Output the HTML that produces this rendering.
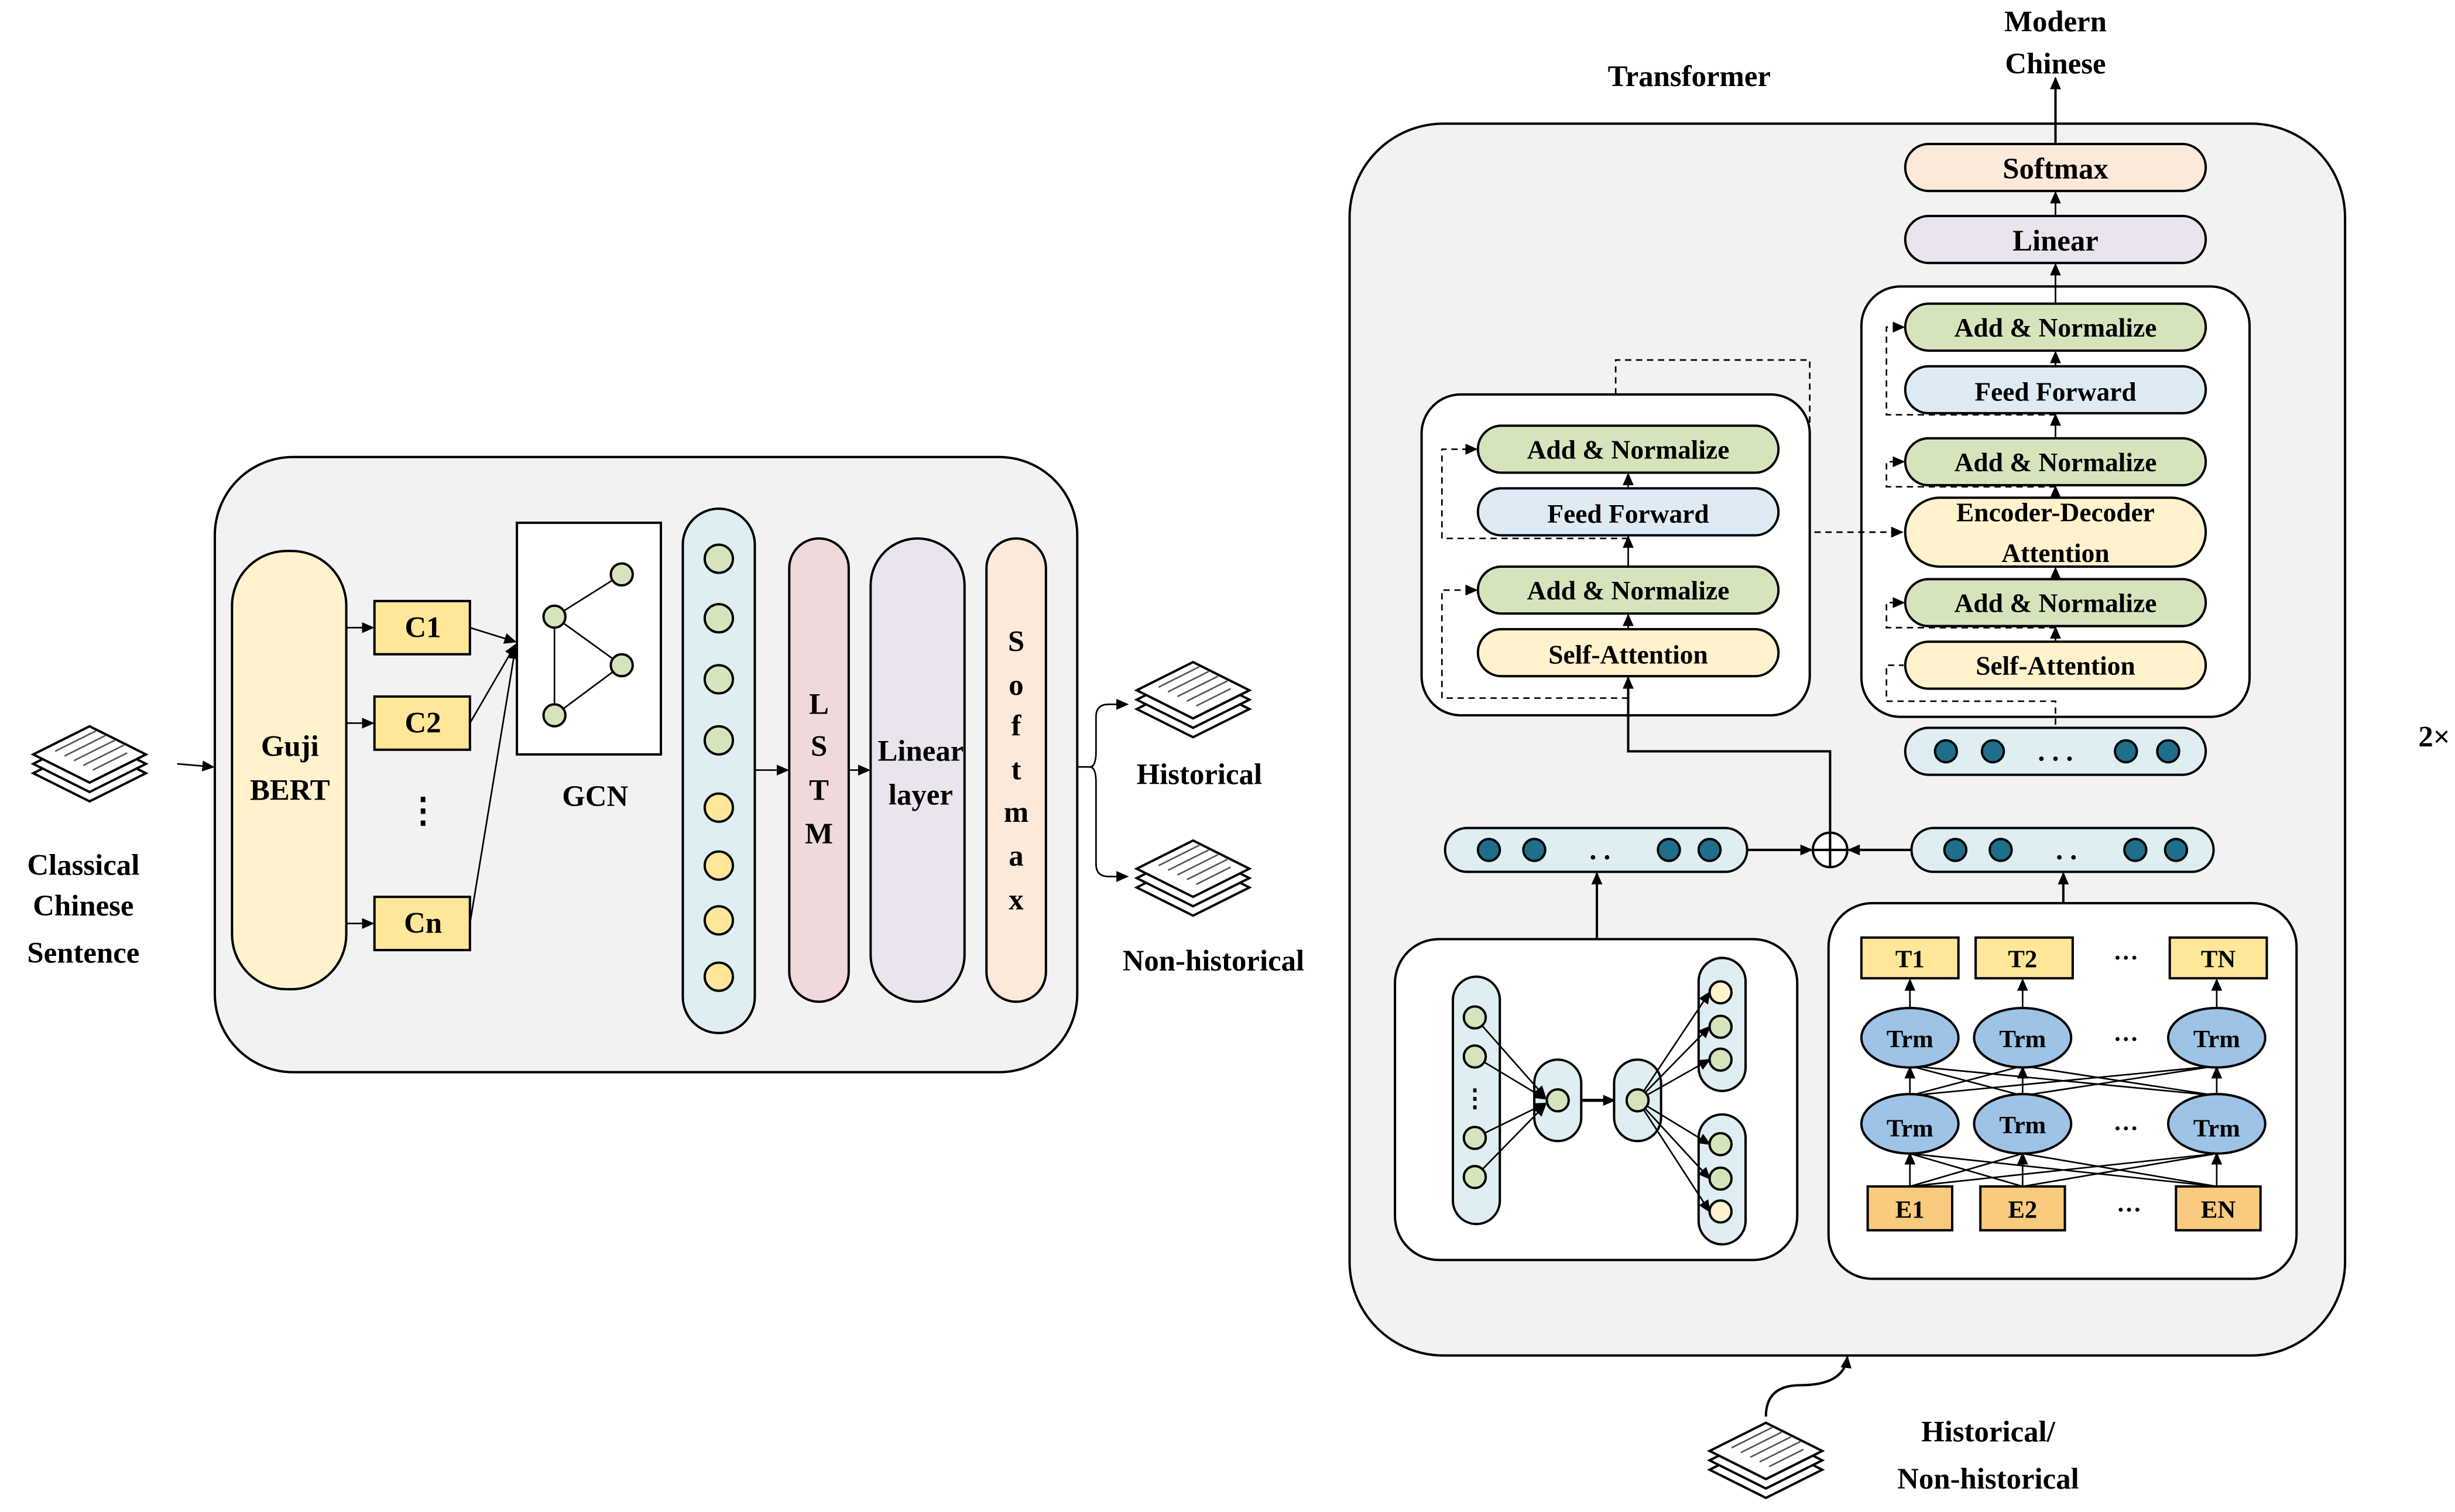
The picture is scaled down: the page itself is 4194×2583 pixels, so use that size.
<!DOCTYPE html>
<html><head><meta charset="utf-8"><style>html,body{margin:0;padding:0;background:#fff}svg{display:block}</style></head>
<body>
<svg width="4194" height="2583" viewBox="0 0 1568 966" xmlns="http://www.w3.org/2000/svg" font-family="'Liberation Serif',serif" font-weight="bold">
<defs>
<marker id="ar" markerWidth="8" markerHeight="8" refX="7" refY="4" orient="auto" markerUnits="userSpaceOnUse"><path d="M0,0.5 L8,4 L0,7.5 z" fill="#000"/></marker>
<g id="doc">
<polygon points="-36,6 0,-12 36,6 0,24" fill="#fff" stroke="#000" stroke-width="1.5"/>
<polygon points="-36,0 0,-18 36,0 0,18" fill="#fff" stroke="#000" stroke-width="1.5"/>
<polygon points="-36,-6 0,-24 36,-6 0,12" fill="#fff" stroke="#000" stroke-width="1.5"/>
<path d="M-22,-8 L4,-21 M-16,-5 L10,-18 M-10,-2 L16,-15 M-4,1 L22,-12 M2,4 L24,-7" stroke="#555" stroke-width="1"/>
</g>
</defs>
<rect width="1568" height="966" fill="#fff"/>
<g stroke="#000" stroke-width="1.5" font-size="19" text-anchor="middle">
<!-- LEFT PANEL -->
<rect x="137" y="292" width="551" height="393" rx="50" fill="#f2f2f2"/>
<rect x="148" y="352" width="73" height="280" rx="35" fill="#fff2cc"/>
<rect x="239" y="384" width="61" height="34" fill="#ffe699"/>
<rect x="239" y="445" width="61" height="34" fill="#ffe699"/>
<rect x="239" y="573" width="61" height="34" fill="#ffe699"/>
<g stroke-width="1" marker-end="url(#ar)" fill="none">
<line x1="221" y1="401" x2="238" y2="401"/><line x1="221" y1="462" x2="238" y2="462"/><line x1="221" y1="590" x2="238" y2="590"/>
<line x1="300" y1="401" x2="329" y2="410"/><line x1="300" y1="462" x2="329" y2="412"/><line x1="300" y1="590" x2="329" y2="414"/>
<line x1="113" y1="488" x2="136" y2="490"/>
<line x1="482" y1="492" x2="503" y2="492"/><line x1="542" y1="492" x2="555" y2="492"/>
<path d="M688,490 H696 Q700,490 700,480 V458 Q700,450 708,450 H720"/>
<path d="M688,490 H696 Q700,490 700,500 V552 Q700,560 708,560 H720"/>
</g>
<rect x="330" y="334" width="92" height="148" fill="#fff"/>
<g stroke-width="1"><line x1="354" y1="394" x2="397" y2="367"/><line x1="354" y1="394" x2="397" y2="425"/><line x1="354" y1="394" x2="354" y2="457"/><line x1="354" y1="457" x2="397" y2="425"/></g>
<g fill="#d6e4bc"><circle cx="397" cy="367" r="7"/><circle cx="354" cy="394" r="7"/><circle cx="397" cy="425" r="7"/><circle cx="354" cy="457" r="7"/></g>
<rect x="436" y="325" width="46" height="335" rx="23" fill="#deeef3"/>
<g fill="#d6e4bc"><circle cx="459" cy="357" r="9"/><circle cx="459" cy="395" r="9"/><circle cx="459" cy="434" r="9"/><circle cx="459" cy="473" r="9"/></g>
<g fill="#ffe699"><circle cx="459" cy="516" r="9"/><circle cx="459" cy="553" r="9"/><circle cx="459" cy="588" r="9"/><circle cx="459" cy="624" r="9"/></g>
<rect x="504" y="344" width="38" height="296" rx="19" fill="#f0d9db"/>
<rect x="556" y="344" width="60" height="296" rx="30" fill="#e9e4ee"/>
<rect x="630" y="344" width="38" height="296" rx="19" fill="#fde9d9"/>
<use href="#doc" x="57" y="488"/>
<use href="#doc" x="762" y="447"/>
<use href="#doc" x="762" y="561"/>
<use href="#doc" x="1128" y="933"/>
<g stroke="none" fill="#000">
<text x="185" y="483">Guji</text><text x="185" y="511">BERT</text>
<text x="270" y="407">C1</text><text x="270" y="468">C2</text><text x="270" y="596">Cn</text>
<text x="270" y="525" font-size="22">⋮</text>
<text x="380" y="515">GCN</text>
<text x="523" y="456">L</text><text x="523" y="483">S</text><text x="523" y="511">T</text><text x="523" y="539">M</text>
<text x="588" y="486">Linear</text><text x="588" y="514">layer</text>
<text x="649" y="416">S</text><text x="649" y="444">o</text><text x="649" y="470">f</text><text x="649" y="498">t</text><text x="649" y="525">m</text><text x="649" y="553">a</text><text x="649" y="581">x</text>
<text x="766" y="501">Historical</text><text x="775" y="620">Non-historical</text>
<text x="53" y="559">Classical</text><text x="53" y="585">Chinese</text><text x="53" y="615">Sentence</text>
<text x="1079" y="55">Transformer</text>
<text x="1313" y="20">Modern</text><text x="1313" y="47">Chinese</text>
<text x="1270" y="921">Historical/</text><text x="1270" y="951">Non-historical</text>
<text x="1036" y="830">Entropy-</text><text x="1036" y="857">SkipGram</text>
<text x="1313" y="843">GujiBERT</text>
<text x="887" y="334">N×</text><text x="1460" y="331">N×</text>
<text x="1555" y="477">2×</text>
</g>
<!-- RIGHT PANEL -->
<rect x="862" y="79" width="636" height="787" rx="60" fill="#f2f2f2"/>
<line x1="1313" y1="92" x2="1313" y2="50" marker-end="url(#ar)"/>
<rect x="1217" y="92" width="192" height="30" rx="15" fill="#fde9d9"/>
<rect x="1217" y="138" width="192" height="30" rx="15" fill="#e9e4ee"/>
<rect x="1189" y="183" width="248" height="275" rx="25" fill="#fff"/>
<rect x="908" y="252" width="248" height="205" rx="25" fill="#fff"/>
<g stroke-width="1" fill="none" marker-end="url(#ar)">
<line x1="1313" y1="138" x2="1313" y2="123"/><line x1="1313" y1="194" x2="1313" y2="169"/>
<line x1="1313" y1="234" x2="1313" y2="225"/><line x1="1313" y1="280" x2="1313" y2="265"/>
<line x1="1313" y1="318" x2="1313" y2="311"/><line x1="1313" y1="370" x2="1313" y2="363"/>
<line x1="1313" y1="410" x2="1313" y2="401"/>
<line x1="1040" y1="272" x2="1040" y2="303" marker-end="none"/>
<line x1="1040" y1="312" x2="1040" y2="303"/><line x1="1040" y1="362" x2="1040" y2="343"/><line x1="1040" y1="402" x2="1040" y2="393"/>
<path d="M1169,532 V480 H1040 V433" stroke-width="1.5"/>
<line x1="1116" y1="543" x2="1157" y2="543" stroke-width="1.5"/>
<line x1="1221" y1="543" x2="1181" y2="543" stroke-width="1.5"/>
<line x1="1020" y1="600" x2="1020" y2="558" stroke-width="1.5"/>
<line x1="1318" y1="577" x2="1318" y2="558" stroke-width="1.5"/>
<path d="M1128,905 Q1128,885 1150,885 Q1178,885 1180,867" stroke-width="1.5"/>
</g>
<g stroke-width="1" fill="none" stroke-dasharray="4,3" marker-end="url(#ar)">
<path d="M1040,344 H921 V287 H943"/><path d="M1040,446 H921 V377 H943"/>
<path d="M1313,265 H1205 V209 H1216"/><path d="M1313,311 H1205 V295 H1216"/>
<path d="M1313,401 H1205 V385 H1216"/><path d="M1313,463 V448 H1205 V425 H1216" marker-end="none"/>
<path d="M1032,252 V230 H1156 V340 H1215"/>
</g>
<g fill="#d6e4bc">
<rect x="944" y="272" width="192" height="30" rx="15"/><rect x="944" y="362" width="192" height="30" rx="15"/>
<rect x="1217" y="194" width="192" height="30" rx="15"/><rect x="1217" y="280" width="192" height="30" rx="15"/><rect x="1217" y="370" width="192" height="30" rx="15"/>
</g>
<rect x="944" y="312" width="192" height="30" rx="15" fill="#deebf5"/>
<rect x="1217" y="234" width="192" height="30" rx="15" fill="#deebf5"/>
<rect x="944" y="402" width="192" height="30" rx="15" fill="#fff2cc"/>
<rect x="1217" y="318" width="192" height="44" rx="22" fill="#fff2cc"/>
<rect x="1217" y="410" width="192" height="30" rx="15" fill="#fff2cc"/>
<rect x="1217" y="465" width="192" height="30" rx="15" fill="#deeef3"/>
<rect x="923" y="529" width="193" height="28" rx="14" fill="#deeef3"/>
<rect x="1221" y="529" width="193" height="28" rx="14" fill="#deeef3"/>
<g fill="#1f6e8c"><circle cx="1243" cy="480" r="7"/><circle cx="1273" cy="480" r="7"/><circle cx="1358" cy="480" r="7"/><circle cx="1385" cy="480" r="7"/>
<circle cx="951" cy="543" r="7"/><circle cx="980" cy="543" r="7"/><circle cx="1066" cy="543" r="7"/><circle cx="1092" cy="543" r="7"/>
<circle cx="1249" cy="543" r="7"/><circle cx="1278" cy="543" r="7"/><circle cx="1364" cy="543" r="7"/><circle cx="1390" cy="543" r="7"/></g>
<circle cx="1169" cy="543" r="11" fill="#fff"/><path d="M1158,543 H1180 M1169,532 V554"/>
<rect x="891" y="600" width="257" height="205" rx="28" fill="#fff"/>
<rect x="1168" y="577" width="299" height="240" rx="28" fill="#fff"/>
<!-- skipgram -->
<rect x="928" y="624" width="30" height="158" rx="15" fill="#deeef3"/>
<rect x="980" y="677" width="30" height="52" rx="15" fill="#deeef3"/>
<rect x="1031" y="677" width="30" height="52" rx="15" fill="#deeef3"/>
<rect x="1085" y="612" width="30" height="85" rx="15" fill="#deeef3"/>
<rect x="1085" y="712" width="30" height="83" rx="15" fill="#deeef3"/>
<g stroke-width="1" marker-end="url(#ar)" fill="none">
<line x1="942" y1="650" x2="987" y2="701"/><line x1="942" y1="675" x2="987" y2="702"/><line x1="942" y1="727" x2="987" y2="705"/><line x1="942" y1="752" x2="987" y2="706"/>
<line x1="1010" y1="703" x2="1031" y2="703" stroke-width="2"/>
<line x1="1046" y1="703" x2="1092" y2="634"/><line x1="1046" y1="703" x2="1092" y2="656"/><line x1="1046" y1="703" x2="1092" y2="677"/>
<line x1="1046" y1="703" x2="1092" y2="731"/><line x1="1046" y1="703" x2="1092" y2="753"/><line x1="1046" y1="703" x2="1092" y2="774"/>
</g>
<g fill="#d6e4bc"><circle cx="942" cy="650" r="7"/><circle cx="942" cy="675" r="7"/><circle cx="942" cy="727" r="7"/><circle cx="942" cy="752" r="7"/>
<circle cx="995" cy="703" r="7"/><circle cx="1046" cy="703" r="7"/><circle cx="1099" cy="656" r="7"/><circle cx="1099" cy="677" r="7"/><circle cx="1099" cy="731" r="7"/><circle cx="1099" cy="753" r="7"/></g>
<g fill="#fff2cc"><circle cx="1099" cy="634" r="7"/><circle cx="1099" cy="774" r="7"/></g>
<text x="942" y="707" stroke="none" fill="#000" font-size="16">⋮</text>
<!-- gujibert -->
<g stroke-width="1" fill="none">
<g marker-end="url(#ar)"><line x1="1220" y1="645" x2="1220" y2="626"/><line x1="1292" y1="645" x2="1292" y2="626"/><line x1="1416" y1="645" x2="1416" y2="626"/>
<line x1="1220" y1="758" x2="1220" y2="737"/><line x1="1292" y1="758" x2="1292" y2="737"/><line x1="1416" y1="758" x2="1416" y2="737"/>
<line x1="1220" y1="700" x2="1220" y2="682"/><line x1="1292" y1="700" x2="1292" y2="682"/><line x1="1416" y1="700" x2="1416" y2="682"/></g>
<path d="M1220,700 L1292,681 M1220,700 L1416,681 M1292,700 L1220,681 M1292,700 L1416,681 M1416,700 L1220,681 M1416,700 L1292,681"/>
<path d="M1220,758 L1292,737 M1220,758 L1416,737 M1292,758 L1220,737 M1292,758 L1416,737 M1416,758 L1220,737 M1416,758 L1292,737"/>
</g>
<g fill="#ffe699"><rect x="1189" y="599" width="62" height="26"/><rect x="1262" y="599" width="62" height="26"/><rect x="1386" y="599" width="62" height="26"/></g>
<g fill="#9dc3e6"><ellipse cx="1220" cy="663" rx="31" ry="19"/><ellipse cx="1292" cy="663" rx="31" ry="19"/><ellipse cx="1416" cy="663" rx="31" ry="19"/>
<ellipse cx="1220" cy="718" rx="31" ry="19"/><ellipse cx="1292" cy="718" rx="31" ry="19"/><ellipse cx="1416" cy="718" rx="31" ry="19"/></g>
<g fill="#f8cb7f"><rect x="1193" y="758" width="54" height="28"/><rect x="1265" y="758" width="54" height="28"/><rect x="1390" y="758" width="54" height="28"/></g>
<g stroke="none" fill="#000">
<g font-size="16"><text x="1220" y="618">T1</text><text x="1292" y="618">T2</text><text x="1417" y="618">TN</text>
<text x="1220" y="669">Trm</text><text x="1292" y="669">Trm</text><text x="1416" y="669">Trm</text>
<text x="1220" y="726">Trm</text><text x="1292" y="724">Trm</text><text x="1416" y="726">Trm</text>
<text x="1220" y="778">E1</text><text x="1292" y="778">E2</text><text x="1417" y="778">EN</text>
<text x="1358" y="617">···</text><text x="1358" y="669">···</text><text x="1358" y="726">···</text><text x="1360" y="778">···</text></g>
<text x="1022" y="549" font-size="18">. .</text><text x="1313" y="486" font-size="18">. . .</text><text x="1320" y="549" font-size="18">. .</text>
<text x="1313" y="114">Softmax</text><text x="1313" y="160">Linear</text>
<g font-size="17"><text x="1313" y="215">Add &amp; Normalize</text><text x="1313" y="256">Feed Forward</text><text x="1313" y="301">Add &amp; Normalize</text>
<text x="1313" y="333">Encoder-Decoder</text><text x="1313" y="359">Attention</text><text x="1313" y="391">Add &amp; Normalize</text><text x="1313" y="431">Self-Attention</text>
<text x="1040" y="293">Add &amp; Normalize</text><text x="1040" y="334">Feed Forward</text><text x="1040" y="383">Add &amp; Normalize</text><text x="1040" y="424">Self-Attention</text></g>
</g>
</g>
</svg>
</body></html>
